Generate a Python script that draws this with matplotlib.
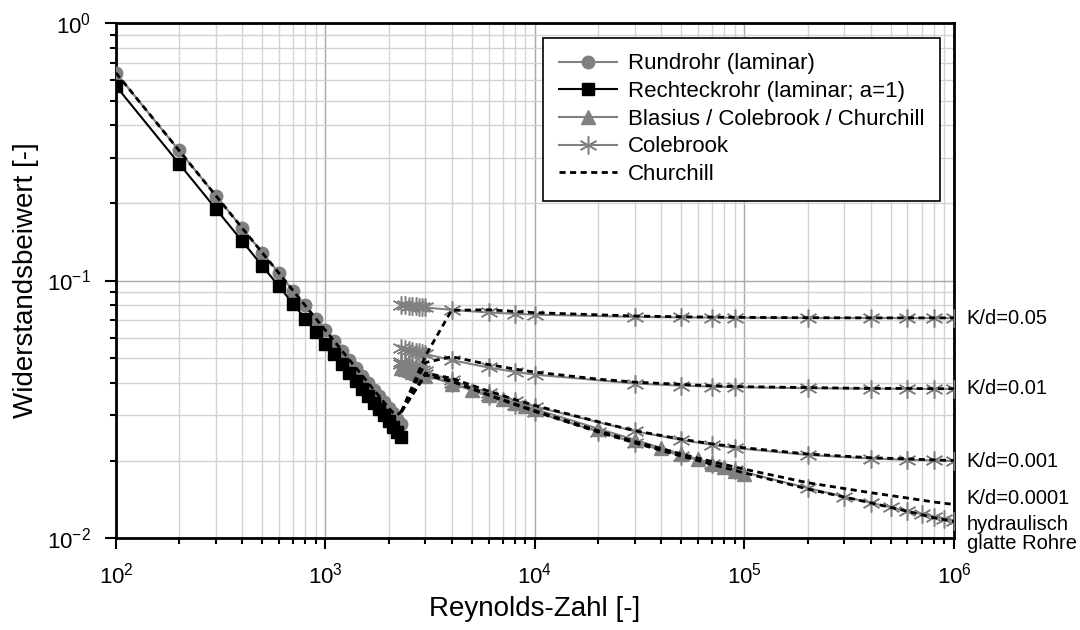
import matplotlib
matplotlib.use("Agg")
import matplotlib.pyplot as plt

plt.rcParams['font.family'] = ['Liberation Sans', 'DejaVu Sans']
plt.rcParams['mathtext.default'] = 'regular'
plt.rcParams['axes.unicode_minus'] = False

GRAY = '#808080'

# laminar flow
re_lam = [100, 200, 300, 400, 500, 600, 700, 800, 900, 1000, 1100, 1200, 1300,
          1400, 1500, 1600, 1700, 1800, 1900, 2000, 2100, 2200, 2300]
lam_rund = [0.64, 0.32, 0.2133, 0.16, 0.128, 0.1067, 0.0914, 0.08, 0.0711, 0.064,
            0.0582, 0.0533, 0.0492, 0.0457, 0.0427, 0.04, 0.0376, 0.0356, 0.0337,
            0.032, 0.0305, 0.0291, 0.0278]
lam_rect = [0.569, 0.2846, 0.1897, 0.1423, 0.1138, 0.0949, 0.0813, 0.0711, 0.0632,
            0.0569, 0.0517, 0.0474, 0.0438, 0.0407, 0.0379, 0.0356, 0.0335, 0.0316,
            0.03, 0.0285, 0.0271, 0.0259, 0.0247]
churchill_lam = [0.64, 0.32, 0.2133, 0.16, 0.128, 0.1067, 0.0914, 0.08, 0.0711, 0.064,
                 0.0582, 0.0533, 0.0492, 0.0457, 0.0427, 0.04, 0.0376, 0.0356, 0.0337,
                 0.032, 0.0307, 0.0301, 0.0309]

# Blasius
re_blasius = [2300, 2400, 2500, 2600, 2700, 2800, 2900, 3000, 4000, 5000, 6000, 7000,
              8000, 9000, 10000, 20000, 30000, 40000, 50000, 60000, 70000, 80000,
              90000, 100000]
lam_blasius = [0.04569, 0.0452, 0.04475, 0.04431, 0.04389, 0.0435, 0.04312, 0.04275,
               0.03979, 0.03763, 0.03595, 0.03459, 0.03346, 0.03248, 0.03164, 0.02661,
               0.02404, 0.02237, 0.02116, 0.02022, 0.01945, 0.01881, 0.01827, 0.01779]

# Colebrook (rough pipes)
re_cb = [2300, 2400, 2500, 2600, 2700, 2800, 2900, 3000, 4000, 6000, 8000, 10000,
         30000, 50000, 70000, 90000, 200000, 400000, 600000, 800000, 1000000]
cb_005 = [0.08057, 0.08021, 0.07988, 0.07959, 0.07931, 0.07905, 0.07881, 0.07858,
          0.0769, 0.07513, 0.07425, 0.07371, 0.07222, 0.07192, 0.07179, 0.07172,
          0.07158, 0.07152, 0.0715, 0.07149, 0.07148]
cb_001 = [0.0549, 0.05433, 0.05384, 0.05339, 0.05295, 0.05255, 0.05217, 0.05181,
          0.04906, 0.04594, 0.04421, 0.0431, 0.03981, 0.03905, 0.03872, 0.03853,
          0.03817, 0.03802, 0.03797, 0.03794, 0.03793]
cb_0001 = [0.04812, 0.04749, 0.04685, 0.04635, 0.04582, 0.04526, 0.0448, 0.04436,
           0.04092, 0.03668, 0.03415, 0.03239, 0.02598, 0.02402, 0.02302, 0.02238,
           0.02102, 0.02036, 0.02013, 0.02001, 0.01993]

# Colebrook (hydraulically smooth)
re_smooth = [2300, 2400, 2500, 2600, 2700, 2800, 2900, 3000, 4000, 6000, 8000, 10000,
             20000, 30000, 50000, 70000, 90000, 200000, 300000, 400000, 500000,
             600000, 700000, 800000, 900000, 1000000]
cb_smooth = [0.0473, 0.04661, 0.04597, 0.04542, 0.04488, 0.04438, 0.0439, 0.04345,
             0.03991, 0.0355, 0.0328, 0.03089, 0.0259, 0.02349, 0.02089, 0.01941,
             0.01839, 0.01564, 0.01446, 0.0137, 0.01316, 0.01274, 0.01239, 0.0121,
             0.01186, 0.01163]

# Churchill (turbulent part)
re_ch = [2300, 3000, 4000, 6000, 8000, 10000, 20000, 30000, 50000, 70000, 100000,
         200000, 400000, 600000, 800000, 1000000]
ch_005 = [0.0309, 0.051, 0.0766, 0.077, 0.0758, 0.075, 0.0736, 0.0728, 0.0723,
          0.0721, 0.0719, 0.0717, 0.0716, 0.0716, 0.0716, 0.0716]
ch_001 = [0.0309, 0.048, 0.0506, 0.0472, 0.0453, 0.0441, 0.0414, 0.0403, 0.0395,
          0.039, 0.0387, 0.0384, 0.0381, 0.0381, 0.038, 0.038]
ch_0001 = [0.0309, 0.0437, 0.0417, 0.0372, 0.0345, 0.0327, 0.0283, 0.0261, 0.0242,
           0.0232, 0.0224, 0.0212, 0.0205, 0.0203, 0.0201, 0.02]
ch_00001 = [0.0309, 0.0431, 0.0407, 0.036, 0.0332, 0.0312, 0.0261, 0.0237, 0.0212,
            0.0198, 0.0185, 0.0164, 0.015, 0.0143, 0.0138, 0.0135]
ch_smooth = [0.0309, 0.043, 0.0406, 0.0359, 0.033, 0.031, 0.0258, 0.0234, 0.0208,
             0.0193, 0.0179, 0.0155, 0.0137, 0.0127, 0.012, 0.0116]

fig = plt.figure(figsize=(10.8, 6.3), dpi=100)
ax = fig.add_axes([0.1074, 0.146, 0.7759, 0.8175])

star = (6, 2, 0)
cb_style = dict(color=GRAY, lw=1.5, marker=star, ms=13, mew=1.1, zorder=3)
ch_style = dict(color='black', lw=2, ls=(0, (2.2, 1.6)), zorder=5)

ax.plot(re_lam, lam_rund, color=GRAY, lw=1.5, marker='o', ms=9, zorder=3,
        label='Rundrohr (laminar)')
ax.plot(re_lam, lam_rect, color='black', lw=1.5, marker='s', ms=8.5, zorder=4,
        label='Rechteckrohr (laminar; a=1)')
ax.plot(re_blasius, lam_blasius, color=GRAY, lw=1.5, marker='^', ms=10, zorder=3,
        label='Blasius / Colebrook / Churchill')
ax.plot(re_cb, cb_005, label='Colebrook', **cb_style)
ax.plot(re_cb, cb_001, **cb_style)
ax.plot(re_cb, cb_0001, **cb_style)
ax.plot(re_smooth, cb_smooth, **cb_style)

ax.plot(re_lam, churchill_lam, label='Churchill', **ch_style)
for ch in [ch_005, ch_001, ch_0001, ch_00001, ch_smooth]:
    ax.plot(re_ch, ch, **ch_style)

ax.set_xscale('log')
ax.set_yscale('log')
ax.set_xlim(1e2, 1e6)
ax.set_ylim(1e-2, 1e0)

ax.grid(True, which='major', color='#a8a8a8', lw=1.0, zorder=0)
ax.grid(True, which='minor', color='#d2d2d2', lw=1.0, zorder=0)
ax.set_axisbelow(True)
for s in ax.spines.values():
    s.set_linewidth(2)
ax.tick_params(which='major', direction='out', length=8, width=1.5, labelsize=16, pad=10)
ax.tick_params(which='minor', direction='out', length=4, width=1.5)

ax.set_xlabel('Reynolds-Zahl [-]', fontsize=20, labelpad=5)
ax.set_ylabel('Widerstandsbeiwert [-]', fontsize=20, labelpad=6)

leg = ax.legend(loc='upper right', bbox_to_anchor=(0.983, 0.971), borderaxespad=0,
                fontsize=16, handlelength=2.6, handletextpad=0.5, frameon=True,
                fancybox=False, framealpha=1, edgecolor='black', borderpad=0.7,
                labelspacing=0.3)
leg.get_frame().set_linewidth(1.2)

tr = ax.get_yaxis_transform()
kw = dict(transform=tr, fontsize=14.5, va='center', ha='left', clip_on=False)
ax.text(1.015, 0.0715, 'K/d=0.05', **kw)
ax.text(1.015, 0.038, 'K/d=0.01', **kw)
ax.text(1.015, 0.0199, 'K/d=0.001', **kw)
ax.text(1.015, 0.0143, 'K/d=0.0001', **kw)
ax.text(1.015, 0.0104, 'hydraulisch\nglatte Rohre', linespacing=1.0, **kw)

fig.savefig('out.png', dpi=100)
